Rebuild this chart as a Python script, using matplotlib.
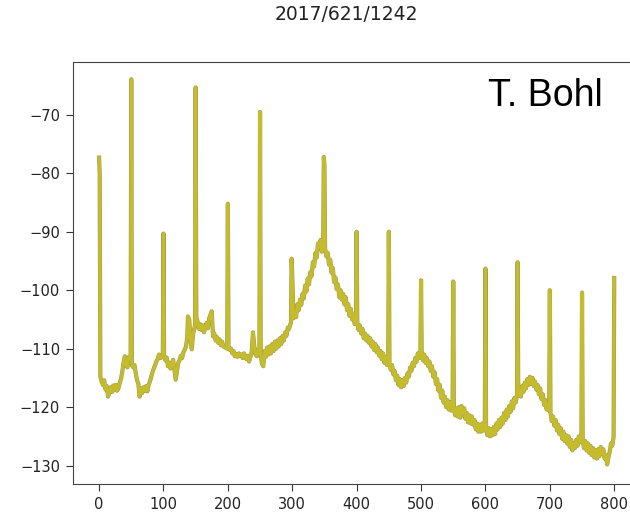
import matplotlib
matplotlib.use("Agg")
import matplotlib.pyplot as plt
import matplotlib.patheffects as pe

title = "2017/621/1242"
watermark = "T. Bohl"
xticks = [0, 100, 200, 300, 400, 500, 600, 700, 800]
yticks = [-130, -120, -110, -100, -90, -80, -70]

freq = [
    0, 1, 2, 4, 6, 8, 10, 12, 14, 16, 18, 20, 22, 24, 26, 28, 30, 32, 34, 36, 38, 40, 42, 44, 46, 49,
    50, 51, 53, 55, 57, 59, 61, 63, 65, 67, 69, 71, 73, 75, 77, 79, 81, 83, 85, 87, 89, 91, 93, 95, 99,
    100, 101, 103, 105, 107, 109, 111, 113, 115, 117, 119, 121, 123, 125, 127, 129, 131, 133, 135, 137, 138, 140, 142, 144, 146, 149,
    150, 151, 153, 155, 157, 159, 161, 163, 165, 167, 169, 171, 173, 175, 177, 179, 181, 183, 185, 187, 189, 191, 193, 196, 199,
    200, 201, 203, 205, 207, 209, 211, 213, 215, 217, 219, 221, 223, 225, 227, 229, 231, 233, 235, 237, 239, 241, 243, 245, 247, 249,
    250, 251, 253, 255, 257, 259, 261, 263, 265, 267, 269, 271, 273, 275, 277, 279, 281, 283, 285, 287, 289, 291, 293, 295, 298,
    299, 300, 302, 304, 306, 308, 310, 312, 314, 316, 318, 320, 322, 324, 326, 328, 330, 332, 334, 336, 338, 340, 342, 344, 346, 348,
    349, 350, 351, 353, 355, 357, 359, 361, 363, 365, 367, 369, 371, 373, 375, 377, 379, 381, 383, 385, 387, 389, 391, 393, 395, 397, 399,
    400, 401, 403, 405, 407, 409, 411, 413, 415, 417, 419, 421, 423, 425, 427, 429, 431, 433, 435, 437, 439, 441, 443, 445, 447, 449,
    450, 451, 453, 455, 457, 459, 461, 463, 465, 467, 469, 471, 473, 475, 477, 479, 481, 483, 485, 487, 489, 491, 493, 495, 497, 499,
    500, 501, 503, 505, 507, 509, 511, 513, 515, 517, 519, 521, 523, 525, 527, 529, 531, 533, 535, 537, 539, 541, 543, 545, 547, 549,
    550, 551, 553, 555, 557, 559, 561, 563, 565, 567, 569, 571, 573, 575, 577, 579, 581, 583, 585, 587, 589, 591, 593, 595, 597, 599,
    600, 601, 603, 605, 607, 609, 611, 613, 615, 617, 619, 621, 623, 625, 627, 629, 631, 633, 635, 637, 639, 641, 643, 645, 647, 649,
    650, 651, 653, 655, 657, 659, 661, 663, 665, 667, 669, 671, 673, 675, 677, 679, 681, 683, 685, 687, 689, 691, 693, 695, 697, 699,
    700, 701, 703, 705, 707, 709, 711, 713, 715, 717, 719, 721, 723, 725, 727, 729, 731, 733, 735, 737, 739, 741, 743, 745, 747, 749,
    750, 751, 753, 755, 757, 759, 761, 763, 765, 767, 769, 771, 773, 775, 777, 779, 781, 783, 785, 787, 789, 791, 793, 795, 797, 799,
    800,
]

level = [
    -77.3, -80.0, -114.8, -115.6, -116.2, -115.4, -117.0, -116.4, -118.2, -117.3, -116.6, -117.4, -116.3, -117.1, -116.2, -117.2, -116.8, -115.9, -115.2, -114.0, -112.4, -111.3, -112.6, -113.2, -111.4, -111.9,
    -63.9, -112.8, -113.2, -112.8, -114.2, -115.4, -116.0, -118.2, -116.8, -117.6, -116.6, -117.2, -116.4, -117.3, -116.2, -115.6, -114.8, -114.0, -113.4, -112.8, -112.2, -111.8, -111.0, -111.6, -111.4,
    -90.3, -111.2, -112.0, -111.5, -113.0, -112.4, -113.4, -112.6, -111.9, -113.6, -115.3, -113.8, -112.4, -112.0, -111.2, -111.6, -110.6, -110.2, -109.6, -108.0, -104.5, -105.0, -108.6, -110.1, -107.5, -106.0,
    -65.3, -104.5, -105.4, -106.6, -105.8, -106.8, -106.0, -107.2, -106.4, -105.6, -106.5, -104.8, -104.2, -103.6, -107.9, -107.4, -108.6, -108.0, -109.0, -108.4, -109.4, -108.8, -109.6, -109.8, -110.0,
    -85.2, -109.6, -110.2, -110.0, -110.8, -110.4, -111.3, -110.9, -111.4, -110.8, -111.2, -111.0, -111.6, -110.8, -111.4, -111.8, -111.2, -112.2, -111.4, -110.6, -107.2, -109.5, -111.0, -111.3, -110.2, -110.6,
    -69.5, -111.0, -112.6, -113.0, -110.4, -111.4, -109.8, -111.0, -109.6, -110.8, -109.2, -110.4, -108.8, -110.0, -108.6, -109.6, -108.2, -109.2, -107.8, -108.6, -107.2, -107.8, -106.4, -106.6, -105.5,
    -94.6, -97.5, -104.8, -103.6, -104.6, -102.4, -103.4, -101.6, -102.5, -100.6, -101.4, -99.2, -100.2, -98.0, -99.0, -96.9, -97.6, -95.2, -95.9, -93.6, -94.4, -92.0, -92.6, -91.4, -93.4, -92.0,
    -77.2, -78.5, -92.8, -94.2, -93.6, -95.6, -94.8, -97.0, -96.2, -98.6, -97.8, -99.8, -99.0, -101.2, -100.0, -101.6, -100.6, -102.4, -101.2, -103.4, -102.4, -104.4, -103.2, -105.0, -104.2, -105.8, -104.6,
    -90.0, -105.6, -106.8, -106.0, -107.4, -106.6, -108.2, -107.4, -108.6, -107.8, -109.0, -108.2, -109.6, -108.8, -110.2, -109.2, -110.6, -109.8, -111.2, -110.4, -111.8, -110.8, -112.4, -111.4, -112.8, -112.0,
    -90.0, -112.6, -113.6, -112.8, -114.4, -113.8, -115.4, -114.6, -116.2, -115.2, -116.6, -115.4, -116.4, -115.0, -115.8, -114.2, -114.8, -113.2, -113.8, -112.4, -113.0, -111.6, -112.2, -110.8, -111.6, -110.8,
    -98.3, -110.8, -112.0, -111.0, -112.4, -111.6, -113.0, -112.2, -113.8, -113.0, -114.8, -114.0, -116.0, -115.2, -117.2, -116.2, -118.4, -117.2, -119.2, -118.2, -120.0, -118.8, -120.4, -119.2, -120.6, -119.6,
    -98.5, -120.2, -121.4, -120.2, -121.6, -120.0, -121.8, -119.8, -121.0, -120.2, -122.0, -121.0, -122.6, -121.4, -122.8, -121.6, -123.0, -122.2, -123.8, -122.8, -124.2, -123.0, -124.2, -122.8, -124.0, -123.0,
    -96.3, -123.8, -124.8, -123.6, -125.0, -123.8, -124.8, -123.4, -124.6, -122.8, -123.8, -122.2, -123.4, -121.8, -122.8, -121.0, -122.2, -120.4, -121.6, -119.8, -120.8, -119.0, -120.2, -118.4, -119.2, -118.0,
    -95.2, -118.0, -117.0, -118.2, -116.4, -117.4, -115.8, -116.8, -115.2, -116.2, -114.8, -116.0, -115.0, -116.4, -115.6, -117.0, -116.2, -117.8, -116.8, -118.6, -117.8, -119.6, -118.8, -120.4, -119.6, -120.6,
    -100.0, -121.0, -122.4, -121.6, -123.2, -122.2, -124.0, -123.0, -124.6, -123.6, -125.4, -124.2, -125.8, -124.8, -126.2, -125.0, -126.8, -125.6, -127.4, -126.2, -127.0, -125.6, -126.6, -125.0, -126.0, -124.8,
    -100.4, -125.8, -127.0, -125.8, -127.4, -126.2, -127.8, -126.6, -128.2, -127.0, -128.6, -127.4, -128.8, -127.2, -128.4, -126.8, -128.0, -127.2, -128.8, -128.2, -129.8, -128.6, -127.6, -126.2, -126.6, -125.1,
    -97.9,
]

W, H = 630, 513
fig = plt.figure(figsize=(W / 100, H / 100), dpi=100)
ax = fig.add_axes([73.3 / W, (H - 484.3) / H, (640 - 73.3) / W, (484.3 - 61.7) / H])

ax.plot(freq, level, color="#c4bc2c", linewidth=2.2, solid_joinstyle="round",
        path_effects=[pe.Stroke(linewidth=3.0, foreground="#a29d52"), pe.Normal()])

ax.set_xlim(-40, 840)
ax.set_ylim(-133.2, -60.9)
ax.set_xticks(xticks)
ax.set_yticks(yticks)
ax.tick_params(labelsize=10.5, length=5, pad=4.5, colors="#333333", labelcolor="#222222")
for s in ax.spines.values():
    s.set_color("#444444")

fig.text(346.5 / W, 1 - 15 / H, title, ha="center", va="center", fontsize=13.5, color="#222222")
fig.text(488 / W, 1 - 106 / H, watermark, ha="left", va="baseline", fontsize=27,
         family="Liberation Sans", color="black")

fig.savefig("out.png", dpi=100)
